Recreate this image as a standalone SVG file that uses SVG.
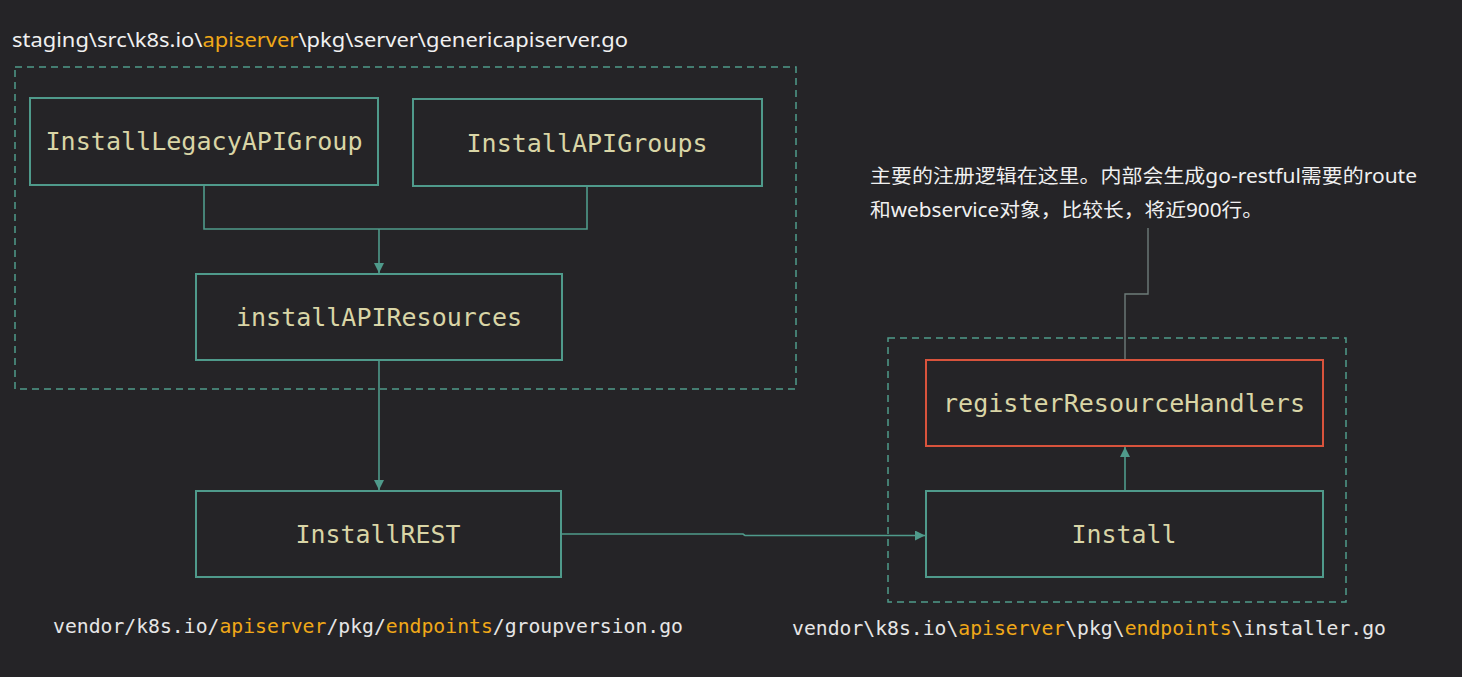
<svg xmlns="http://www.w3.org/2000/svg" width="1462" height="677" viewBox="0 0 1462 677">
<style>
.node{fill:#252427;stroke:#4f9a8b;stroke-width:2}
.hot{fill:#252427;stroke:#d9533c;stroke-width:2}
.grp{fill:none;stroke:#4f9a8b;stroke-width:1.5;stroke-dasharray:7 5}
.lbl{font-family:"DejaVu Sans Mono","Liberation Mono",monospace;font-size:24px;fill:#d9d5a6;text-anchor:middle;dominant-baseline:central}
.path{font-family:"DejaVu Sans Mono","Liberation Mono",monospace;font-size:19.5px;fill:#e6e6e6}
.cap{font-family:"Noto Sans","Liberation Sans","Noto Sans CJK SC",sans-serif;font-size:19px;fill:#f0f0f0}
.hl{fill:#f0a818}
.edge{fill:none;stroke:#4f9a8b;stroke-width:1.6}
.note{fill:none;stroke:#6e7c7a;stroke-width:1.4}
</style>
<defs>
<marker id="arr" viewBox="0 0 10 10" refX="10" refY="5" markerWidth="10" markerHeight="10" markerUnits="userSpaceOnUse" orient="auto">
<path d="M0,0 L10,5 L0,10 z" fill="#4f9a8b"/>
</marker>
</defs>
<rect width="1462" height="677" fill="#252427"/>

<text class="cap" x="12" y="47" textLength="616" lengthAdjust="spacingAndGlyphs">staging\src\k8s.io\<tspan class="hl">apiserver</tspan>\pkg\server\genericapiserver.go</text>

<rect class="grp" x="15" y="67" width="781" height="322"/>
<rect class="grp" x="888" y="338" width="458" height="264"/>

<g id="connectors">
<polyline class="edge" points="204,185 204,229 587,229 587,186"/>
<polyline class="edge" points="379,229 379,273" marker-end="url(#arr)"/>
<polyline class="edge" points="379,360 379,490" marker-end="url(#arr)"/>
<polyline class="edge" points="561,534 743,534 745,535.5 925,535.5" marker-end="url(#arr)"/>
<polyline class="edge" points="1125,491 1125,447" marker-end="url(#arr)"/>
<polyline class="note" points="1125,360 1125,294 1148,294 1148,228"/>
</g>

<g id="InstallLegacyAPIGroup">
<rect class="node" x="30" y="98" width="348" height="87"/>
<text class="lbl" x="204" y="142" textLength="317" lengthAdjust="spacingAndGlyphs">InstallLegacyAPIGroup</text>
</g>
<g id="InstallAPIGroups">
<rect class="node" x="413" y="99" width="349" height="87"/>
<text class="lbl" x="587" y="144" textLength="241" lengthAdjust="spacingAndGlyphs">InstallAPIGroups</text>
</g>
<g id="installAPIResources">
<rect class="node" x="196" y="274" width="366" height="86"/>
<text class="lbl" x="379" y="318" textLength="286" lengthAdjust="spacingAndGlyphs">installAPIResources</text>
</g>
<g id="InstallREST">
<rect class="node" x="196" y="491" width="365" height="86"/>
<text class="lbl" x="378" y="535" textLength="165" lengthAdjust="spacingAndGlyphs">InstallREST</text>
</g>
<g id="registerResourceHandlers">
<rect class="hot" x="926" y="360" width="397" height="86"/>
<text class="lbl" x="1124" y="404" textLength="362" lengthAdjust="spacingAndGlyphs">registerResourceHandlers</text>
</g>
<g id="Install">
<rect class="node" x="926" y="491" width="397" height="86"/>
<text class="lbl" x="1124" y="535" textLength="105" lengthAdjust="spacingAndGlyphs">Install</text>
</g>

<g id="note">
<text class="cap" x="870" y="183" textLength="547" lengthAdjust="spacingAndGlyphs">主要的注册逻辑在这里。内部会生成go-restful需要的route</text>
<text class="cap" x="870" y="217" textLength="393" lengthAdjust="spacingAndGlyphs">和webservice对象，比较长，将近900行。</text>
</g>

<text class="path" x="53" y="633" textLength="630" lengthAdjust="spacingAndGlyphs">vendor/k8s.io/<tspan class="hl">apiserver</tspan>/pkg/<tspan class="hl">endpoints</tspan>/groupversion.go</text>
<text class="path" x="792" y="635" textLength="594" lengthAdjust="spacingAndGlyphs">vendor\k8s.io\<tspan class="hl">apiserver</tspan>\pkg\<tspan class="hl">endpoints</tspan>\installer.go</text>
</svg>
